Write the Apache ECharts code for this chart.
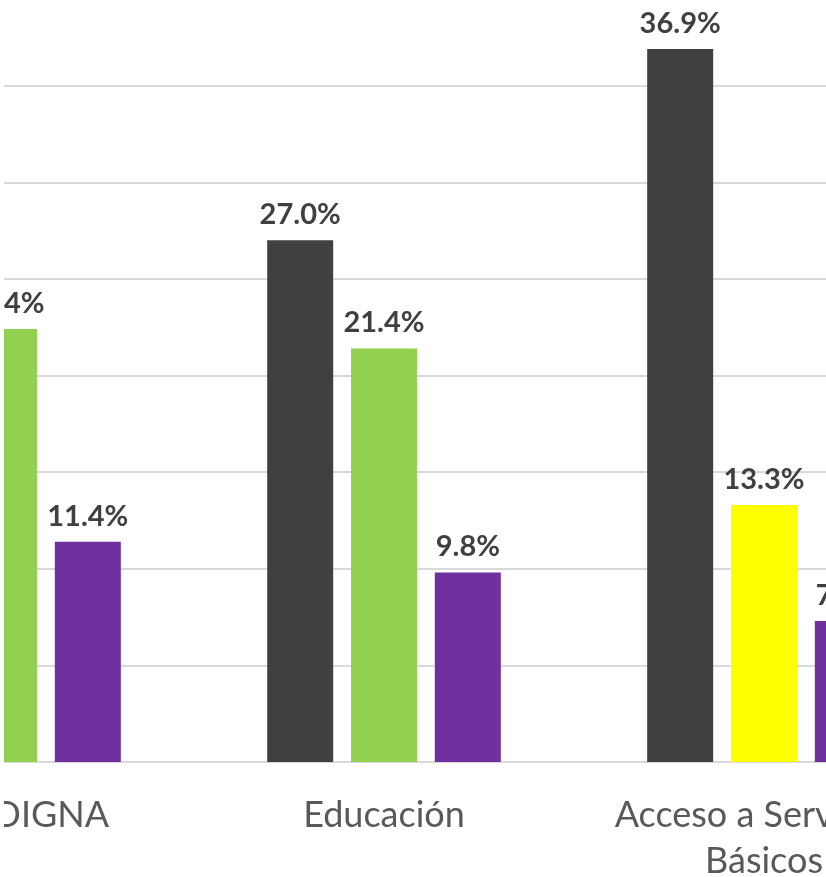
<!DOCTYPE html>
<html>
<head>
<meta charset="utf-8">
<script src="https://cdn.jsdelivr.net/npm/echarts@6/dist/echarts.min.js"></script>
<style>
  html, body { margin: 0; padding: 0; background: #ffffff; }
  #frame { position: absolute; left: 4px; top: 0; width: 822px; height: 877px; overflow: hidden; background: #ffffff; }
  #chart { position: absolute; left: -190px; top: -11px; width: 1140px; height: 888px; }
</style>
</head>
<body>
<div id="frame"><div id="chart"></div></div>
<script>
// Data
const categories = ['VIDA DIGNA', 'Educación', 'Acceso a Servicios Básicos'];
const seriesA = [null, 27.0, 36.9];
const seriesB = [22.4, 21.4, 13.3];
const seriesC = [11.4, 9.8, 7.3];
const colorsA = ['#404040', '#404040', '#404040'];
const colorsB = ['#92D050', '#92D050', '#FFFF00'];
const colorsC = ['#7030A0', '#7030A0', '#7030A0'];

const FONT = 'Lato, "Open Sans", sans-serif';

function toItems(vals, cols) {
  return vals.map((v, i) => ({ value: v, itemStyle: { color: cols[i] } }));
}

const labelCfg = {
  show: true,
  position: 'top',
  distance: 11,
  fontFamily: FONT,
  fontSize: 29,
  fontWeight: 'bold',
  color: '#404040',
  formatter: p => p.value == null ? '' : p.value.toFixed(1) + '%'
};

const chart = echarts.init(document.getElementById('chart'), null, { renderer: 'canvas' });
chart.setOption({
  animation: false,
  backgroundColor: '#ffffff',
  grid: { left: 0, right: 0, top: 0, bottom: 115, containLabel: false, outerBoundsMode: 'none' },
  xAxis: {
    type: 'category',
    data: categories,
    axisLine: { show: true, lineStyle: { color: '#D9D9D9', width: 2 } },
    axisTick: { show: false },
    axisLabel: {
      interval: 0,
      margin: 30,
      fontFamily: FONT,
      fontSize: 36,
      lineHeight: 46,
      color: '#595959',
      width: 330,
      overflow: 'break',
      align: 'center'
    }
  },
  yAxis: {
    type: 'value',
    min: 0,
    max: 40,
    interval: 5,
    axisLabel: { show: false },
    axisLine: { show: false },
    axisTick: { show: false },
    splitLine: { show: true, lineStyle: { color: '#D9D9D9', width: 2 } }
  },
  series: [
    { type: 'bar', data: toItems(seriesA, colorsA), barWidth: 66, barGap: '27%', label: labelCfg },
    { type: 'bar', data: toItems(seriesB, colorsB), barWidth: 66, barGap: '27%', label: labelCfg },
    { type: 'bar', data: toItems(seriesC, colorsC), barWidth: 66, barGap: '27%', label: labelCfg }
  ]
});
</script>
</body>
</html>
